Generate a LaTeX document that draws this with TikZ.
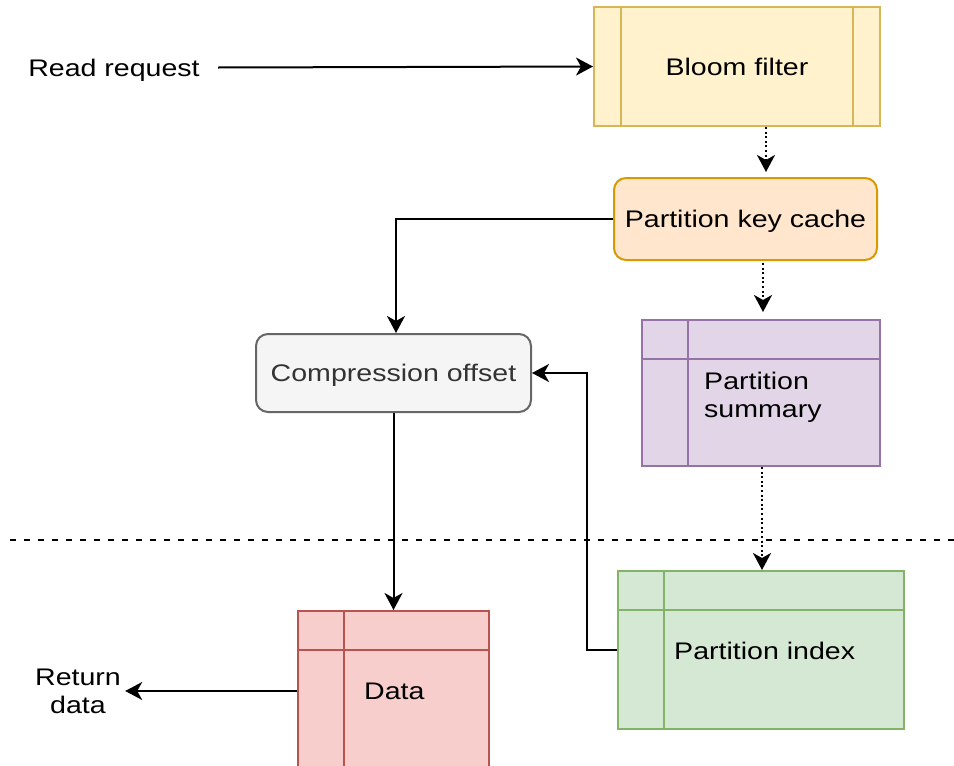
\documentclass[tikz,border=0pt]{standalone}
\usepackage{fontspec}
\setmainfont[FakeStretch=1.19]{Liberation Sans}
\usetikzlibrary{arrows.meta,calc}

\definecolor{bfFill}{HTML}{FFF2CC}\definecolor{bfLine}{HTML}{D6B656}
\definecolor{pkFill}{HTML}{FFE6CC}\definecolor{pkLine}{HTML}{D79B00}
\definecolor{coFill}{HTML}{F5F5F5}\definecolor{coLine}{HTML}{666666}
\definecolor{coText}{HTML}{333333}
\definecolor{psFill}{HTML}{E1D5E7}\definecolor{psLine}{HTML}{9673A6}
\definecolor{piFill}{HTML}{D5E8D4}\definecolor{piLine}{HTML}{82B366}
\definecolor{daFill}{HTML}{F8CECC}\definecolor{daLine}{HTML}{B85450}

\tikzset{
  every node/.style={font=\fontsize{24pt}{28pt}\selectfont, inner sep=0pt},
  box/.style={draw, line width=2pt, inner sep=0pt},
  lbl/.style={text height=17pt, text depth=0pt},
  tip/.style={-{Stealth[length=17pt,width=18pt,inset=5pt]}},
  arr/.style={tip, line width=2pt},
  dotarr/.style={tip, line width=2pt, dash pattern=on 2pt off 2.6pt},
  sep/.style={line width=1.6pt, dash pattern=on 6pt off 8pt},
  divider/.style={line width=2pt},
}

\begin{document}
\begin{tikzpicture}[x=1pt,y=-1pt]
\useasboundingbox (0,0) rectangle (954,766);

% boundary between memory and disk
\draw[sep] (10,540) -- (954,540);

% Bloom filter (process box with side bars)
\node[box, draw=bfLine, fill=bfFill, minimum width=286pt, minimum height=119pt, lbl]
  (bf) at (737,66.5) {Bloom filter};
\draw[divider, bfLine] ([xshift=28pt]bf.north west) -- ([xshift=28pt]bf.south west)
  ([xshift=-28pt]bf.north east) -- ([xshift=-28pt]bf.south east);

% Partition key cache
\node[box, draw=pkLine, fill=pkFill, rounded corners=12pt, minimum width=263pt,
  minimum height=82pt, lbl] (pkc) at (745.5,219) {Partition key cache};

% Compression offset
\node[box, draw=coLine, fill=coFill, rounded corners=12pt, minimum width=275pt,
  minimum height=78pt, lbl, text=coText] (co) at (393.5,373) {Compression offset};

% Partition summary (internal storage box)
\node[box, draw=psLine, fill=psFill, minimum width=238pt, minimum height=146pt]
  (ps) at (761,393) {};
\draw[divider, psLine] ([yshift=-40pt]ps.north west) -- ([yshift=-40pt]ps.north east)
  ([xshift=47pt]ps.north west) -- ([xshift=47pt]ps.south west);
\node[align=left, anchor=west] (pst) at (704,397) {Partition\\summary};

% Partition index (internal storage box)
\node[box, draw=piLine, fill=piFill, minimum width=286pt, minimum height=158pt]
  (pi) at (761,650) {};
\draw[divider, piLine] ([yshift=-40pt]pi.north west) -- ([yshift=-40pt]pi.north east)
  ([xshift=47pt]pi.north west) -- ([xshift=47pt]pi.south west);
\node[lbl, anchor=west] (pit) at (674,651) {Partition index};

% Data (internal storage box, runs past the lower edge)
\node[box, draw=daLine, fill=daFill, minimum width=191pt, minimum height=160pt]
  (data) at (393.5,691) {};
\draw[divider, daLine] ([yshift=-40pt]data.north west) -- ([yshift=-40pt]data.north east)
  ([xshift=47pt]data.north west) -- ([xshift=47pt]data.south west);
\node[lbl, anchor=west] (dat) at (364,690.5) {Data};

% free labels
\node[lbl, minimum width=208pt] (rr) at (114,67.5) {Read request};
\node[align=center, minimum width=94pt] (ret) at (78,691) {Return\\data};

% connectors
\draw[arr] (rr.east) -- (bf.west);
\draw[dotarr, shorten >=5pt] ([xshift=29pt]bf.south) -- ([xshift=20.5pt]pkc.north);
\draw[dotarr, shorten <=2pt, shorten >=7pt] ([xshift=17.5pt]pkc.south) -- ([xshift=2pt]ps.north);
\draw[dotarr] ([xshift=1pt]ps.south) -- ([xshift=1pt]pi.north);
\draw[arr] (pkc.west) -| ([xshift=2.5pt]co.north);
\draw[arr] (pi.west) -- ++(-30,0) |- (co.east);
\draw[arr] (co.south) -- (data.north);
\draw[arr] (data.west) -- (ret.east);
\end{tikzpicture}
\end{document}
